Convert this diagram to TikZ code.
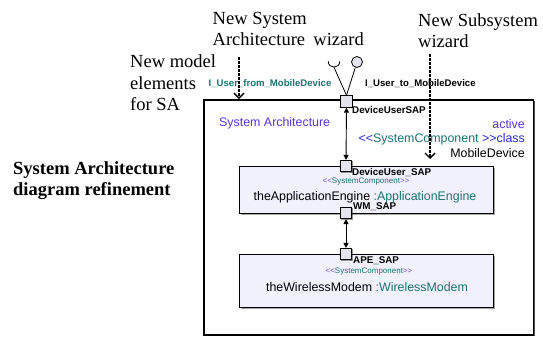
\documentclass[tikz,border=0pt]{standalone}
\usepackage{fontspec}
\setmainfont{Liberation Serif}
\newfontfamily\dfont{Liberation Sans}
\usetikzlibrary{arrows.meta,shadows}
\definecolor{archpurple}{HTML}{5A32DC}
\definecolor{steal}{HTML}{1B7373}
\definecolor{sblue}{HTML}{2828D8}
\definecolor{spale}{HTML}{7A5AE0}
\definecolor{boxfill}{HTML}{F1F1FD}
\definecolor{portfill}{HTML}{E4E4EE}
\newcommand\stLeft{<\kern0pt<}
\newcommand\stRight{>\kern0pt>}

\begin{document}
\begin{tikzpicture}[x=1pt,y=-1pt,
  note/.style={font=\fontsize{18.5}{21.5}\selectfont, align=left, inner sep=0pt, anchor=north west},
  frame/.style={draw, line width=1.3pt, fill=white, inner sep=0pt,
    minimum width=329.5pt, minimum height=235pt,
    drop shadow={shadow xshift=1.2pt, shadow yshift=-1.2pt, fill=black, opacity=0.7}},
  partbox/.style={draw, line width=0.8pt, fill=boxfill, inner sep=0pt, minimum width=254pt,
    drop shadow={shadow xshift=2pt, shadow yshift=-2pt, fill=black, opacity=0.35}},
  port/.style={draw, line width=0.7pt, fill=portfill, inner sep=0pt, minimum size=11.5pt,
    drop shadow={shadow xshift=0.8pt, shadow yshift=-0.8pt, fill=black, opacity=0.4}},
  plabel/.style={font={\dfont\bfseries\fontsize{9.8}{11}\selectfont}, inner sep=0pt, anchor=west},
  dtext/.style={font={\dfont\fontsize{12.4}{14.4}\selectfont}, inner sep=0pt},
  stereo/.style={font={\dfont\fontsize{8}{9}\selectfont}, inner sep=0pt, text=steal},
  wizarrow/.style={line width=1.3pt, dash pattern=on 2.5pt off 1.5pt,
    -{Straight Barb[length=5pt,width=10pt]}},
  biarrow/.style={line width=0.9pt, {Triangle[length=5pt,width=5pt]}-{Triangle[length=5pt,width=5pt]}},
  ifline/.style={line width=0.8pt}
]
\useasboundingbox (0,0) rectangle (543,338);

% annotations
\node[note] (wizsa) at (212.5,11.8) {New System\\Architecture\hspace{0.2em} wizard};
\node[note] (newel) at (130,54.7) {New model\\elements\\for SA};
\node[note] (wizsub) at (418,13.2) {New Subsystem\\wizard};
\node[note, font={\bfseries\fontsize{18.5}{20.5}\selectfont}] (refine) at (13,161.8)
  {System Architecture\\diagram refinement};

% system architecture frame
\node[frame] (sa) at (368.75,217.5) {};

% parts
\node[partbox, minimum height=47pt] (engine) at (366,189.5) {};
\node[partbox, minimum height=53pt] (modem) at (366,280.5) {};

% ports
\node[port] (pdu) at (346.5,101.5) {};
\node[port] (pdus) at (346,166) {};
\node[port] (pwm) at (346,213) {};
\node[port] (pape) at (346,254) {};

% provided / required interfaces on the outer port
\node[circle, draw, line width=0.8pt, fill=portfill, inner sep=0pt, minimum size=11pt] (ball) at (357,62) {};
\coordinate (sockL) at (328.2,61.3);
\coordinate (sockR) at (339.8,61.3);
\coordinate (sockB) at (334,67.3);
\draw[ifline] (sockL) .. controls (328.2,69) and (339.8,69) .. (sockR);
\draw[ifline] (pdu.north) -- (sockB);
\draw[ifline] (pdu.north) -- (ball);

% interface names
\node[font={\dfont\bfseries\fontsize{9.6}{11}\selectfont}, text=steal, inner sep=0pt] (ifrom) at (270,84) {I\_User\_from\_MobileDevice};
\node[plabel, font={\dfont\bfseries\fontsize{9.6}{11}\selectfont}] (ito) at (365,84) {I\_User\_to\_MobileDevice};

% port names
\node[plabel] (lpdu) at (352,110) {DeviceUserSAP};
\node[plabel] (lpdus) at (352,173) {DeviceUser\_SAP};
\node[plabel] (lpwm) at (353,207) {WM\_SAP};
\node[plabel] (lpape) at (353,261) {APE\_SAP};

% frame headings
\node[dtext, anchor=west, text=archpurple] (satitle) at (219,123) {System Architecture};
\node[dtext, align=right, anchor=north east] (saclass) at (525,119.2)
  {\textcolor{archpurple}{active}\\
   \textcolor{sblue}{\stLeft}\textcolor{steal}{SystemComponent }\textcolor{sblue}{\stRight class}\\
   MobileDevice};

% part contents
\node[stereo] (st1) at (366,181.5) {\textcolor{spale}{\stLeft}SystemComponent\textcolor{spale}{\stRight}};
\node[dtext] (n1) at (365,197) {theApplicationEngine \textcolor{steal}{:ApplicationEngine}};
\node[stereo] (st2) at (369,272) {\textcolor{spale}{\stLeft}SystemComponent\textcolor{spale}{\stRight}};
\node[dtext] (n2) at (367,287) {theWirelessModem \textcolor{steal}{:WirelessModem}};

% connectors between ports
\draw[biarrow] (pdu.south) -- (pdus.north);
\draw[biarrow] (pwm.south) -- (pape.north);

% wizard arrows
\coordinate (a1s) at (239,57);
\coordinate (a1e) at (239,99);
\coordinate (a2s) at (430,54);
\coordinate (a2e) at (430,159);
\draw[wizarrow] (a1s) -- (a1e);
\draw[wizarrow] (a2s) -- (a2e);
\end{tikzpicture}
\end{document}
